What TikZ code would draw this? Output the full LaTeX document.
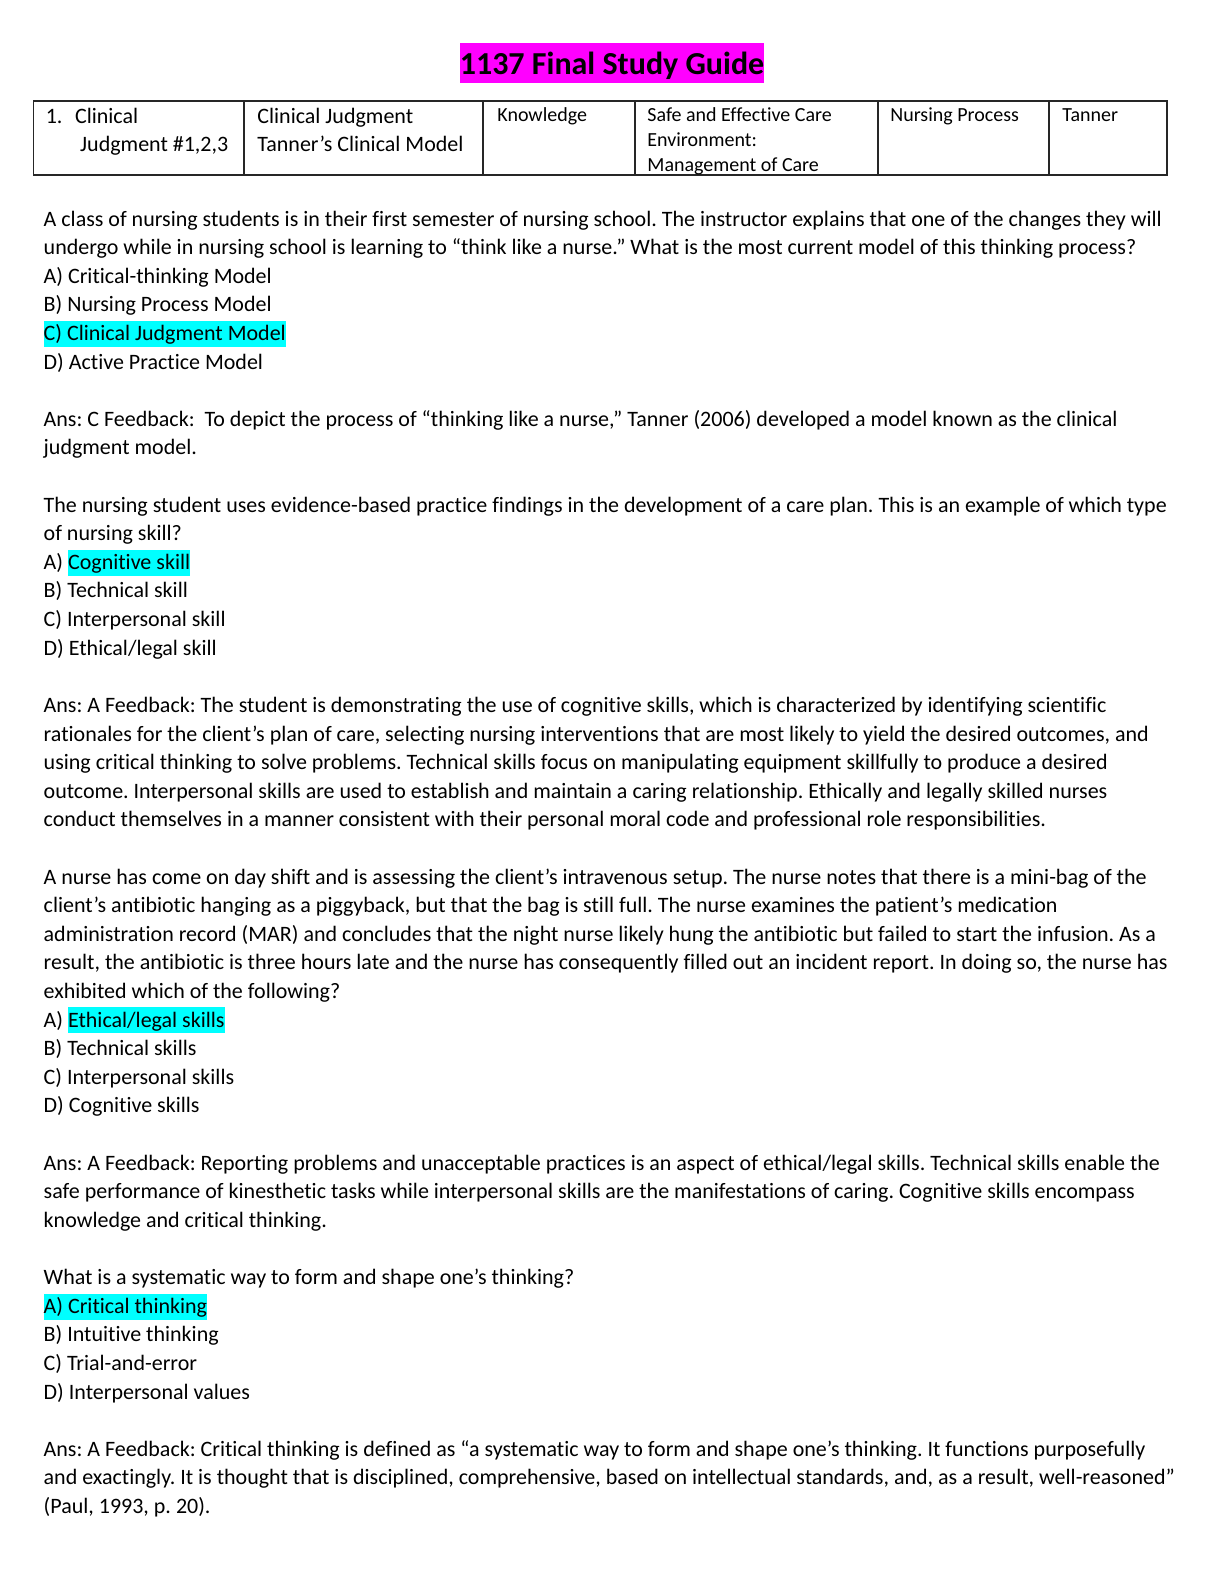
\documentclass[tikz,border=0pt]{standalone}
\usepackage{fontspec}
\setmainfont{Carlito}[Ligatures=NoCommon]
\usepackage{xcolor}
\definecolor{hlcyan}{HTML}{00FFFF}
\definecolor{hlmagenta}{HTML}{FF00FF}
\newcommand\hl[1]{{\setlength{\fboxsep}{0pt}\colorbox{hlcyan}{\rule[-3.15pt]{0pt}{13pt}#1}}}
\frenchspacing
\tikzset{
  body/.style={anchor=base west, inner sep=0pt, font=\fontsize{11}{13.5}\selectfont},
  cellbig/.style={anchor=base west, inner sep=0pt, font=\fontsize{11}{13.5}\selectfont},
  cellsmall/.style={anchor=base west, inner sep=0pt, font=\fontsize{10}{12}\selectfont},
  gridline/.style={draw=black!85, line width=0.8pt},
}

\begin{document}
\begin{tikzpicture}[x=0.5pt, y=-0.5pt]
\path[use as bounding box, fill=white] (0,0) rectangle (1224,1584);

% title
\node[fill=hlmagenta, anchor=north, inner sep=0pt, minimum width=152pt,
  text height=16pt, text depth=4.2pt, font=\bfseries\fontsize{16}{19}\selectfont]
  (title) at (612,42.3) {1137 Final Study Guide};

% table
\draw[gridline] (33.3,101) rectangle (1167,175);
\foreach \xx in {244,483,635,878,1049}
  \draw[gridline] (\xx,101) -- (\xx,175);
\node[cellbig] (c1a) at (45.4,124) {1.};
\node[cellbig] (c1b) at (74.7,124) {Clinical};
\node[cellbig] (c1c) at (79.8,151) {Judgment \#1,2,3};
\node[cellbig] (c2a) at (257,124) {Clinical Judgment};
\node[cellbig] (c2b) at (257,151) {Tanner’s Clinical Model};
\node[cellsmall] (c3) at (497,122) {Knowledge};
\node[cellsmall] (c4a) at (647,122) {Safe and Effective Care};
\node[cellsmall] (c4b) at (647,146.5) {Environment:};
\node[cellsmall] (c4c) at (647,171) {Management of Care};
\node[cellsmall] (c5) at (890,122) {Nursing Process};
\node[cellsmall] (c6) at (1062,122) {Tanner};

% question 1
\node[body] (q1a) at (43.3,226.0) {A class of nursing students is in their first semester of nursing school. The instructor explains that one of the changes they will};
\node[body] (q1b) at (43.3,254.6) {undergo while in nursing school is learning to “think like a nurse.” What is the most current model of this thinking process?};
\node[body] (q1A) at (43.3,283.2) {A) Critical-thinking Model};
\node[body] (q1B) at (43.3,311.8) {B) Nursing Process Model};
\node[body] (q1C) at (43.3,340.4) {\hl{C) Clinical Judgment Model}};
\node[body] (q1D) at (43.3,369.1) {D) Active Practice Model};
\node[body] (a1a) at (43.3,426.3) {Ans: C Feedback:\ \ To depict the process of “thinking like a nurse,” Tanner (2006) developed a model known as the clinical};
\node[body] (a1b) at (43.3,454.9) {judgment model.};

% question 2
\node[body] (q2a) at (43.3,512.1) {The nursing student uses evidence-based practice findings in the development of a care plan. This is an example of which type};
\node[body] (q2b) at (43.3,540.7) {of nursing skill?};
\node[body] (q2A) at (43.3,569.3) {A) \hl{Cognitive skill}};
\node[body] (q2B) at (43.3,597.9) {B) Technical skill};
\node[body] (q2C) at (43.3,626.5) {C) Interpersonal skill};
\node[body] (q2D) at (43.3,655.2) {D) Ethical/legal skill};
\node[body] (a2a) at (43.3,712.4) {Ans: A Feedback: The student is demonstrating the use of cognitive skills, which is characterized by identifying scientific};
\node[body] (a2b) at (43.3,741.0) {rationales for the client’s plan of care, selecting nursing interventions that are most likely to yield the desired outcomes, and};
\node[body] (a2c) at (43.3,769.6) {using critical thinking to solve problems. Technical skills focus on manipulating equipment skillfully to produce a desired};
\node[body] (a2d) at (43.3,798.2) {outcome. Interpersonal skills are used to establish and maintain a caring relationship. Ethically and legally skilled nurses};
\node[body] (a2e) at (43.3,826.8) {conduct themselves in a manner consistent with their personal moral code and professional role responsibilities.};

% question 3
\node[body] (q3a) at (43.3,884.0) {A nurse has come on day shift and is assessing the client’s intravenous setup. The nurse notes that there is a mini-bag of the};
\node[body] (q3b) at (43.3,912.6) {client’s antibiotic hanging as a piggyback, but that the bag is still full. The nurse examines the patient’s medication};
\node[body] (q3c) at (43.3,941.2) {administration record (MAR) and concludes that the night nurse likely hung the antibiotic but failed to start the infusion. As a};
\node[body] (q3d) at (43.3,969.9) {result, the antibiotic is three hours late and the nurse has consequently filled out an incident report. In doing so, the nurse has};
\node[body] (q3e) at (43.3,998.5) {exhibited which of the following?};
\node[body] (q3A) at (43.3,1027.1) {A) \hl{Ethical/legal skills}};
\node[body] (q3B) at (43.3,1055.7) {B) Technical skills};
\node[body] (q3C) at (43.3,1084.3) {C) Interpersonal skills};
\node[body] (q3D) at (43.3,1112.9) {D) Cognitive skills};
\node[body] (a3a) at (43.3,1170.1) {Ans: A Feedback: Reporting problems and unacceptable practices is an aspect of ethical/legal skills. Technical skills enable the};
\node[body] (a3b) at (43.3,1198.7) {safe performance of kinesthetic tasks while interpersonal skills are the manifestations of caring. Cognitive skills encompass};
\node[body] (a3c) at (43.3,1227.4) {knowledge and critical thinking.};

% question 4
\node[body] (q4a) at (43.3,1284.6) {What is a systematic way to form and shape one’s thinking?};
\node[body] (q4A) at (43.3,1313.2) {\hl{A) Critical thinking}};
\node[body] (q4B) at (43.3,1341.8) {B) Intuitive thinking};
\node[body] (q4C) at (43.3,1370.4) {C) Trial-and-error};
\node[body] (q4D) at (43.3,1399.0) {D) Interpersonal values};
\node[body] (a4a) at (43.3,1456.2) {Ans: A Feedback: Critical thinking is defined as “a systematic way to form and shape one’s thinking. It functions purposefully};
\node[body] (a4b) at (43.3,1484.8) {and exactingly. It is thought that is disciplined, comprehensive, based on intellectual standards, and, as a result, well-reasoned”};
\node[body] (a4c) at (43.3,1513.5) {(Paul, 1993, p. 20).};
\end{tikzpicture}
\end{document}
